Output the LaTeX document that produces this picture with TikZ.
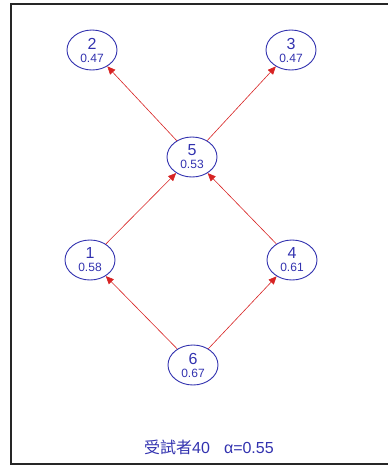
\documentclass[tikz,border=0pt]{standalone}
\usepackage{fontspec}
\setmainfont{Liberation Sans}
\newfontfamily\cjk{Noto Sans CJK TC}
\usetikzlibrary{shapes.geometric,arrows.meta}
\definecolor{itemblue}{RGB}{50,50,175}
\definecolor{linkred}{RGB}{215,35,35}
\newcommand{\itemlabel}[2]{{\fontsize{16}{16}\selectfont #1}\\[1pt]{\fontsize{12}{12}\selectfont #2}}
\begin{document}
\begin{tikzpicture}[x=1pt,y=-1pt,
  item/.style={ellipse,draw=itemblue,text=itemblue,line width=0.9pt,
    minimum width=50pt,minimum height=40pt,inner sep=0pt,align=center,
    font=\fontsize{12}{12}\selectfont},
  link/.style={draw=linkred,line width=0.6pt,-{Triangle[length=8pt,width=7pt]}}]
\useasboundingbox (0,0) rectangle (388,467);
\draw [line width=1.8pt,black!85] (390,4) -- (11,4) -- (11,464) -- (390,464);

\node [item] (n2) at (92,50) {\itemlabel{2}{0.47}};
\node [item] (n3) at (291,50) {\itemlabel{3}{0.47}};
\node [item] (n5) at (192,157) {\itemlabel{5}{0.53}};
\node [item] (n1) at (90,260) {\itemlabel{1}{0.58}};
\node [item] (n4) at (292,260) {\itemlabel{4}{0.61}};
\node [item] (n6) at (193,365) {\itemlabel{6}{0.67}};

\draw [link] (n6) -- (n1);
\draw [link] (n6) -- (n4);
\draw [link] (n1) -- (n5);
\draw [link] (n4) -- (n5);
\draw [link] (n5) -- (n2);
\draw [link] (n5) -- (n3);

\node [text=itemblue,font=\fontsize{16}{16}\selectfont] (title) at (209,447)
  {{\cjk 受試者}40\hspace{14pt}α=0.55};
\end{tikzpicture}
\end{document}
